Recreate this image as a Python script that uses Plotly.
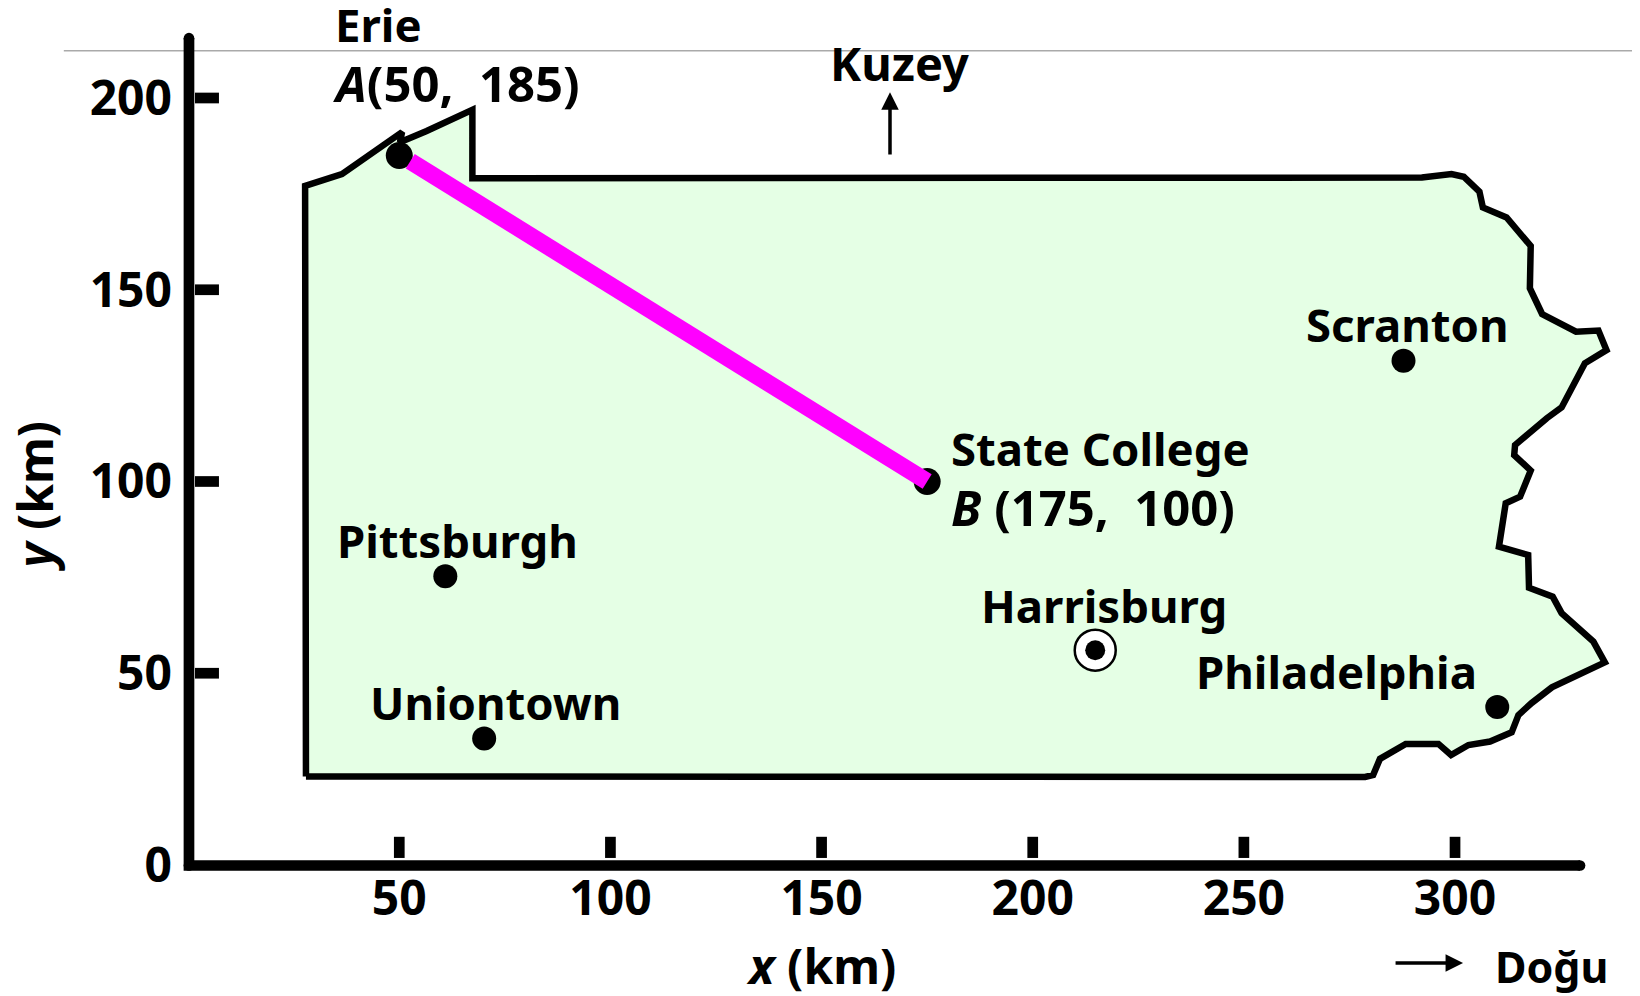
import plotly.graph_objects as go

# State outline (km)
outline_x = [27.9, 27.7, 36.42, 42.34, 50.66, 50.16, 56.48, 67.31, 67.31, 292.15, 299.16, 302.07, 305.78, 306.59, 312.2,
             317.92, 317.72, 320.62, 328.65, 333.96, 335.87, 330.75, 325.24, 321.73, 314.21, 314.01, 317.92, 315.41, 312.0,
             310.4, 317.32, 317.52, 323.13, 325.24, 332.76, 335.47, 322.93, 318.12, 315.01, 313.41, 308.29, 303.18, 299.06,
             296.06, 288.33, 282.22, 280.61, 278.71, 27.9]
outline_y = [23.06, 177.06, 180.17, 184.88, 191.09, 188.49, 191.40, 196.91, 179.06, 179.26, 180.17, 179.46, 175.55, 171.44, 168.84,
             161.42, 150.39, 143.67, 139.06, 139.36, 134.25, 130.84, 119.31, 116.50, 109.48, 106.88, 102.87, 96.05, 94.34,
             83.01, 80.81, 72.29, 69.98, 65.67, 58.25, 52.84, 46.32, 42.21, 39.10, 34.59, 32.18, 31.28, 28.67,
             31.58, 31.58, 27.67, 23.46, 22.96, 23.06]

# Cities
city_x = [60.9, 70.1, 310, 287.8]
city_y = [75.3, 33, 41.2, 131.5]
end_x = [50, 175]
end_y = [185, 100]
path_x = [52.6, 175]
path_y = [183.5, 100]
capital_x = [214.8]
capital_y = [56]

# Labels
label_text = ["Erie", "Scranton", "State College", "Pittsburgh", "Uniontown", "Harrisburg", "Philadelphia"]
label_x = [34.4, 264.3, 180.1, 34.8, 42.7, 187.3, 238.2]
label_y = [219.3, 141, 108.8, 84.7, 42.4, 67.8, 50.6]
num_text = ["<i>A</i>(50,\u00a0 185)", "<i>B</i> (175,\u00a0 100)"]
num_x = [33.9, 180.1]
num_y = [203.9, 93.3]

# Axes
x_ticks = [50, 100, 150, 200, 250, 300]
y_ticks = [0, 50, 100, 150, 200]
y_marks = [50, 100, 150, 200]
axis_x = [0.2, 0.2, 329.6]
axis_y = [215.6, -0.13, -0.13]
rule_y = 212.3

FONT = "Noto Sans"
SIZE = 45.5
TICK = 48
base = dict(family=FONT, size=SIZE, color="black")
numf = dict(family=FONT, size=TICK, color="black")
pointf = dict(family=FONT, size=49, color="black")

xm_x, xm_y = [], []
for t in x_ticks:
    xm_x += [t, t, None]
    xm_y += [1.83, 7.35, None]
ym_x, ym_y = [], []
for t in y_marks:
    ym_x += [1.62, 7.3, None]
    ym_y += [t, t, None]

fig = go.Figure()
fig.add_trace(go.Scatter(x=outline_x, y=outline_y, mode="lines", fill="toself", fillcolor="#e5ffe5",
                         line=dict(color="black", width=6.5)))
fig.add_trace(go.Scatter(x=axis_x, y=axis_y, mode="lines+markers", line=dict(color="black", width=10.7),
                         marker=dict(color="black", size=10.7), cliponaxis=False))
fig.add_trace(go.Scatter(x=xm_x, y=xm_y, mode="lines", line=dict(color="black", width=10.7)))
fig.add_trace(go.Scatter(x=ym_x, y=ym_y, mode="lines", line=dict(color="black", width=10.7)))
fig.add_trace(go.Scatter(x=capital_x, y=capital_y, mode="markers",
                         marker=dict(color="white", size=41, line=dict(color="black", width=2.5))))
fig.add_trace(go.Scatter(x=capital_x, y=capital_y, mode="markers", marker=dict(color="black", size=20)))
fig.add_trace(go.Scatter(x=city_x, y=city_y, mode="markers", marker=dict(color="black", size=24)))
fig.add_trace(go.Scatter(x=end_x, y=end_y, mode="markers", marker=dict(color="black", size=27)))
fig.add_trace(go.Scatter(x=path_x, y=path_y, mode="lines", line=dict(color="#ff00ff", width=17)))

annotations = [dict(x=x, y=y, text=f"<b>{t}</b>", showarrow=False, xanchor="left", yanchor="middle", align="left",
                    font=base)
               for t, x, y in zip(label_text, label_x, label_y)]
annotations += [dict(x=x, y=y, text=f"<b>{t}</b>", showarrow=False, xanchor="left", yanchor="middle", align="left",
                     font=pointf)
                for t, x, y in zip(num_text, num_x, num_y)]
annotations += [
    dict(x=168.45, y=209.2, text="<b>Kuzey</b>", showarrow=False, xanchor="center", yanchor="middle",
         font=dict(family=FONT, size=47, color="black")),
    dict(x=166.2, y=201.5, ax=166.2, ay=184.9, axref="x", ayref="y", xref="x", yref="y", text="", showarrow=True,
         arrowhead=2, arrowsize=1, arrowwidth=3.5, arrowcolor="black"),
    dict(x=308.9, xref="x", y=-0.1096, yref="paper", text="<b>Doğu</b>", showarrow=False, xanchor="left",
         yanchor="middle", font=dict(family=FONT, size=43, color="black")),
    dict(x=301.9, xref="x", y=-0.1053, yref="paper", ax=-69, ay=0, text="", showarrow=True,
         arrowhead=2, arrowsize=1, arrowwidth=3.5, arrowcolor="black"),
    dict(x=149.9, xref="x", y=-0.108, yref="paper", text="<b><i>x</i> (km)</b>", showarrow=False,
         xanchor="center", yanchor="middle", font=numf),
    dict(x=-0.098, xref="paper", y=96.3, yref="y", text="<b><i>y</i> (km)</b>", showarrow=False, textangle=-90,
         xanchor="center", yanchor="middle", font=numf),
]

fig.update_layout(
    width=1632, height=988, margin=dict(l=170, r=0, t=0, b=124, pad=0),
    paper_bgcolor="white", plot_bgcolor="rgba(0,0,0,0)", showlegend=False, hovermode=False,
    annotations=annotations, font=base,
    shapes=[dict(type="line", xref="paper", yref="y", x0=-0.0781, x1=1, y0=rule_y, y1=rule_y, layer="below",
                 line=dict(color="#aaaaaa", width=1.5))],
    xaxis=dict(range=[-2.4, 343.8], showgrid=False, zeroline=False, showline=False, tickmode="array",
               tickvals=x_ticks, ticks="", ticklabelstandoff=-6,
               tickfont=dict(family=FONT, size=TICK, color="black", weight="bold")),
    yaxis=dict(range=[-1.83, 223.47], showgrid=False, zeroline=False, showline=False, tickmode="array",
               tickvals=y_ticks, ticks="", ticklabelstandoff=5,
               tickfont=dict(family=FONT, size=TICK, color="black", weight="bold")),
)
fig.write_html("out.html", config=dict(displayModeBar=False))
